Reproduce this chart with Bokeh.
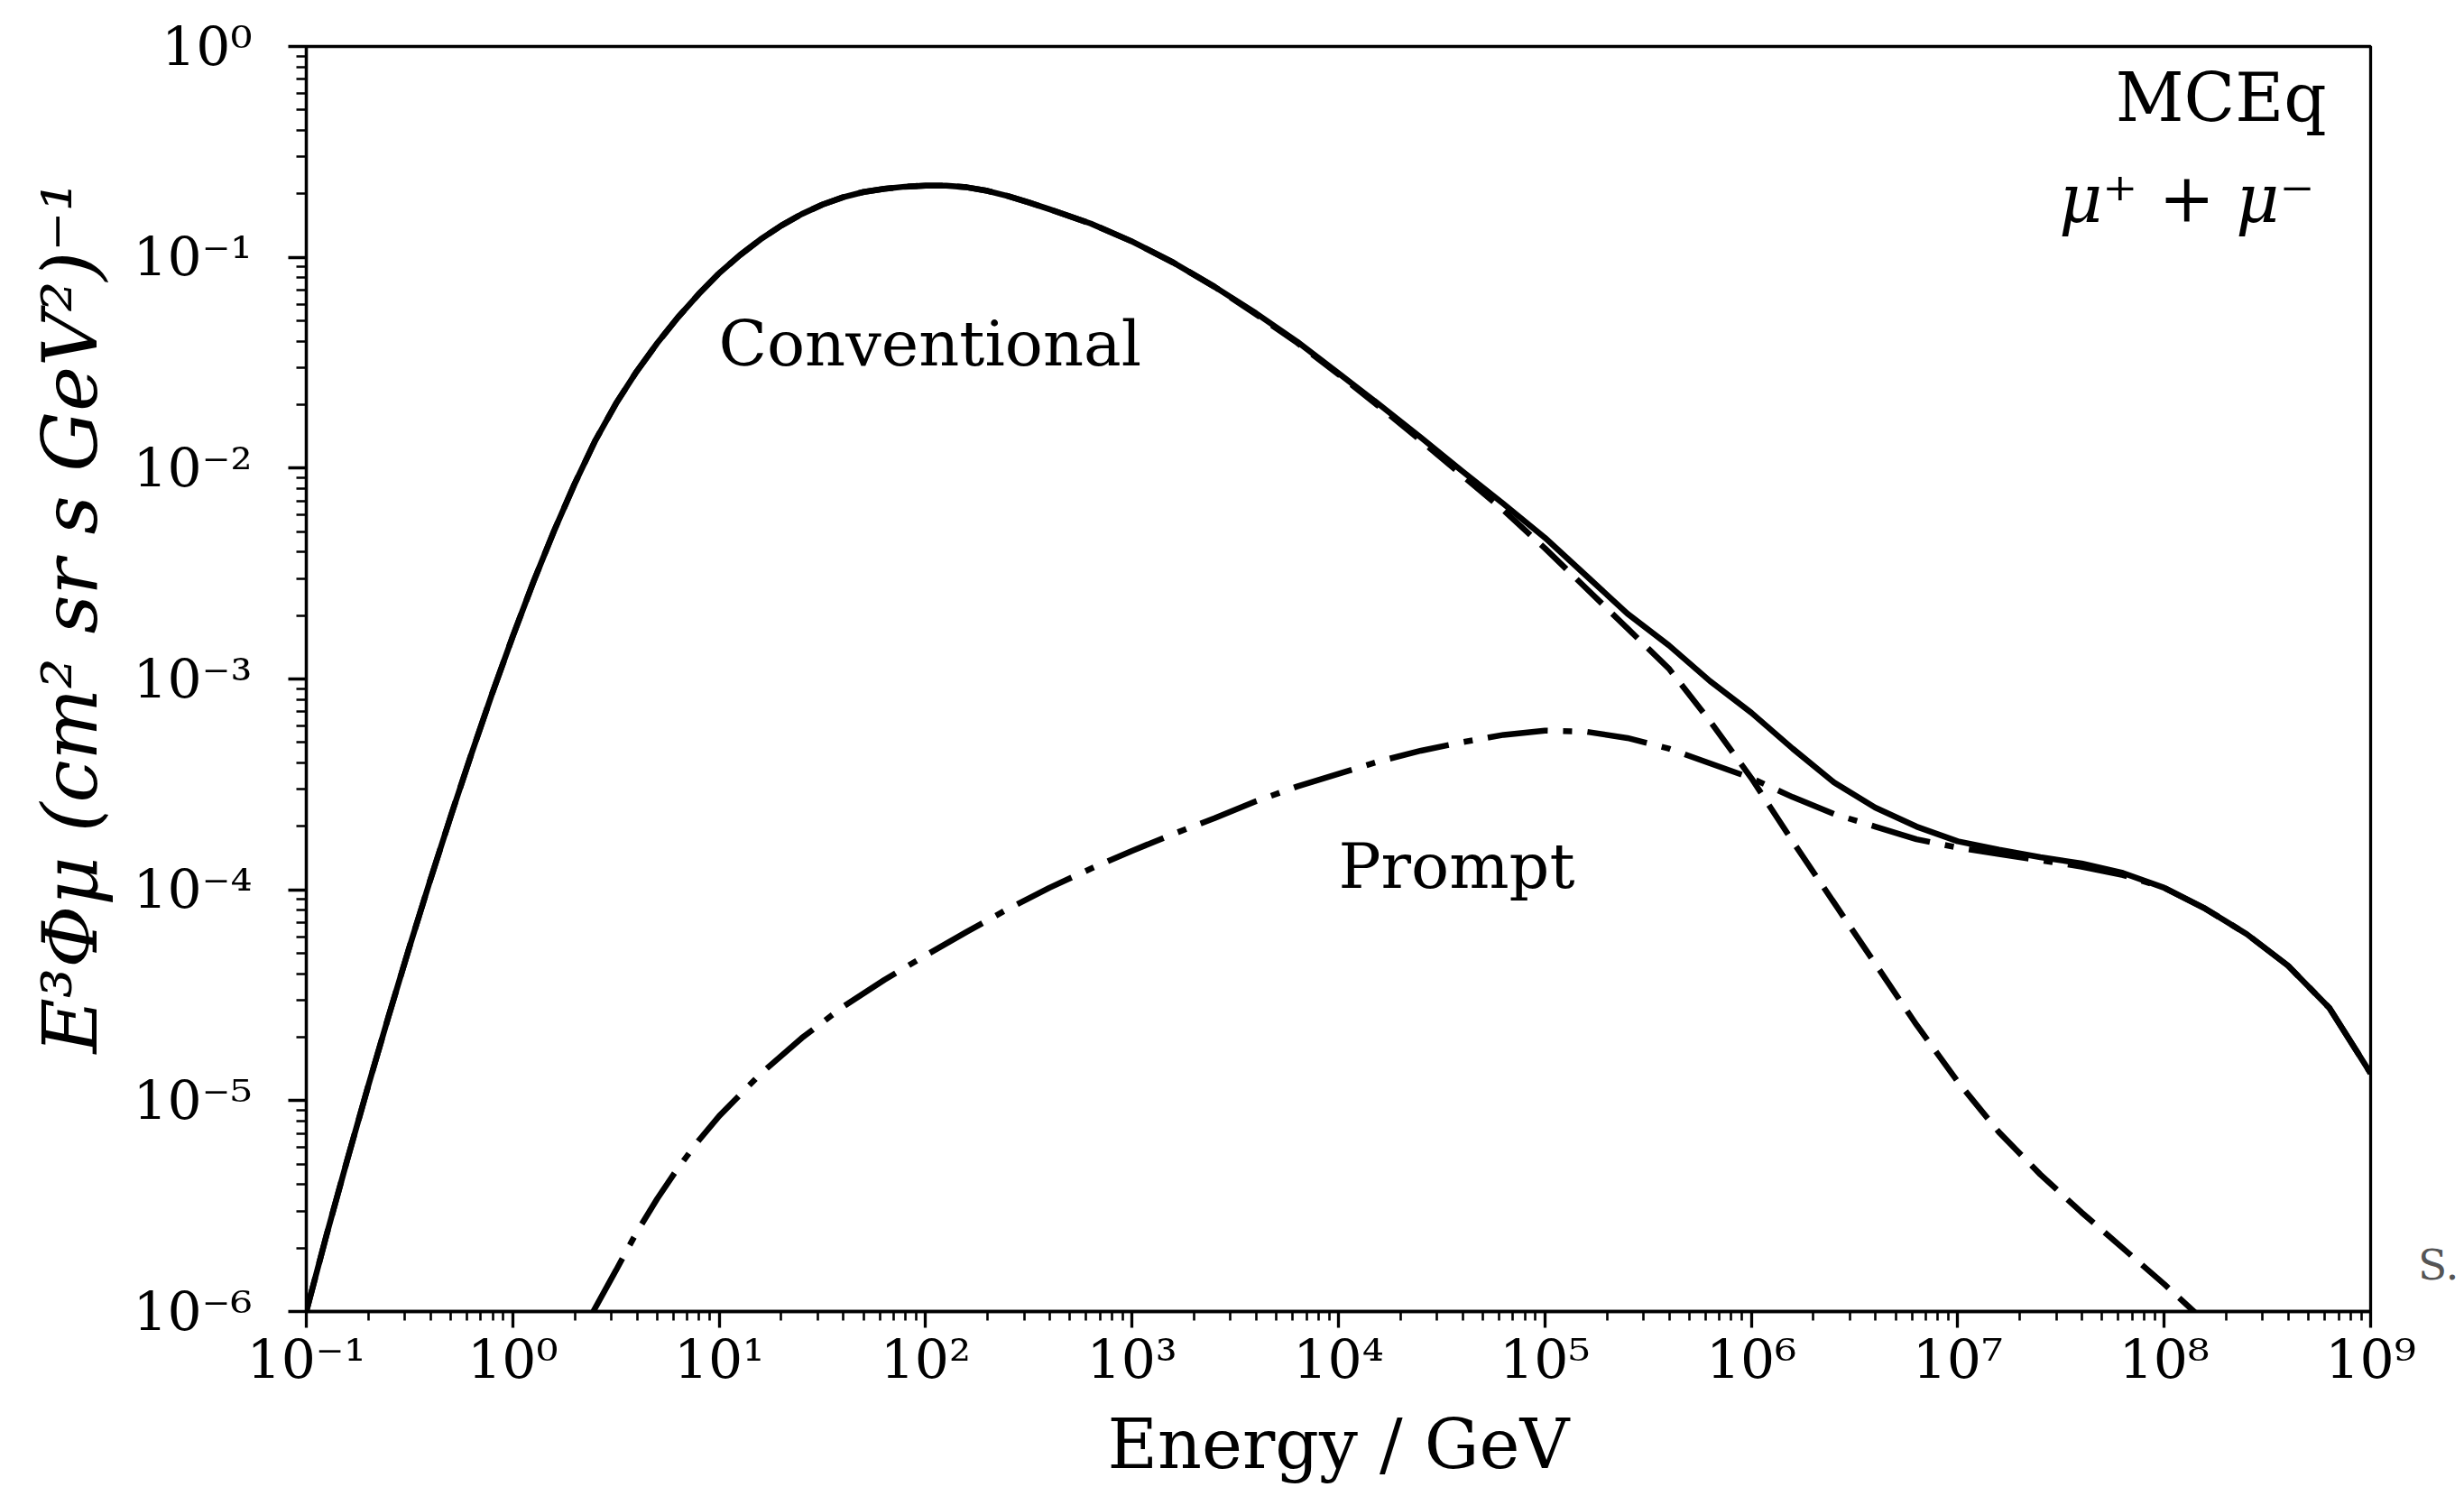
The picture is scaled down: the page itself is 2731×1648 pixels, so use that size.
import numpy as np
from bokeh.plotting import figure
from bokeh.models import FixedTicker, Label, Title, Div
from bokeh.layouts import row
from bokeh.embed import file_html
from bokeh.resources import INLINE

# ---- data (log10 of energy in GeV, log10 of E^3 * flux) ----
log10_energy_total = [-1.0, -0.9, -0.8, -0.7, -0.6, -0.5, -0.4, -0.3, -0.2, -0.1,
                      0.0, 0.1, 0.2, 0.3, 0.4, 0.5, 0.6, 0.7, 0.8, 0.9, 1.0,
                      1.1, 1.2, 1.3, 1.4, 1.5, 1.6, 1.7, 1.8, 1.9, 2.0, 2.1, 2.2,
                      2.3, 2.4, 2.5, 2.6, 2.8, 3.0, 3.2, 3.4,
                      3.6, 3.8, 4.0, 4.2, 4.4, 4.6, 4.8, 5.0, 5.2, 5.4, 5.6, 5.8,
                      6.0, 6.2, 6.4, 6.6, 6.8, 7.0, 7.2, 7.4, 7.6, 7.8, 8.0, 8.2,
                      8.4, 8.6, 8.8, 9.0]
log10_flux_total = [-6.00, -5.63, -5.275, -4.93, -4.595, -4.27, -3.955, -3.65, -3.355, -3.07,
                    -2.798, -2.54, -2.298, -2.074, -1.869, -1.694, -1.542, -1.407, -1.285, -1.175, -1.075,
                    -0.99, -0.915, -0.85, -0.795, -0.75, -0.715, -0.69, -0.675, -0.665, -0.66, -0.66, -0.668,
                    -0.685, -0.71, -0.74, -0.772, -0.84, -0.925, -1.025, -1.14,
                    -1.265, -1.40, -1.55, -1.70, -1.855, -2.015, -2.17, -2.33, -2.51, -2.69, -2.84, -3.01,
                    -3.16, -3.33, -3.49, -3.61, -3.70, -3.77, -3.81, -3.845, -3.875, -3.92, -3.99, -4.09,
                    -4.21, -4.36, -4.56, -4.87]

log10_energy_conv = [-1.0, -0.9, -0.8, -0.7, -0.6, -0.5, -0.4, -0.3, -0.2, -0.1,
                     0.0, 0.1, 0.2, 0.3, 0.4, 0.5, 0.6, 0.7, 0.8, 0.9, 1.0,
                     1.1, 1.2, 1.3, 1.4, 1.5, 1.6, 1.7, 1.8, 1.9, 2.0, 2.1, 2.2,
                     2.3, 2.4, 2.5, 2.6, 2.8, 3.0, 3.2, 3.4,
                     3.6, 3.8, 4.0, 4.2, 4.4, 4.6, 4.8, 5.0, 5.2, 5.4, 5.6, 5.8,
                     6.0, 6.2, 6.4, 6.6, 6.8, 7.0, 7.2, 7.4, 7.6, 7.8, 8.0, 8.2]
log10_flux_conv = [-6.00, -5.63, -5.275, -4.93, -4.595, -4.27, -3.955, -3.65, -3.355, -3.07,
                   -2.798, -2.54, -2.298, -2.074, -1.869, -1.694, -1.542, -1.407, -1.285, -1.175, -1.075,
                   -0.99, -0.915, -0.85, -0.795, -0.75, -0.715, -0.69, -0.675, -0.665, -0.66, -0.66, -0.668,
                   -0.685, -0.71, -0.74, -0.772, -0.84, -0.925, -1.025, -1.14,
                   -1.27, -1.405, -1.555, -1.71, -1.87, -2.035, -2.20, -2.38, -2.57, -2.76, -2.95, -3.20,
                   -3.47, -3.77, -4.06, -4.35, -4.64, -4.91, -5.15, -5.35, -5.53, -5.70, -5.87, -6.05]

log10_energy_prompt = [0.39, 0.5, 0.6, 0.7, 0.8, 0.9, 1.0, 1.2, 1.4, 1.6, 1.8, 2.0,
                       2.2, 2.4, 2.6, 2.8, 3.0, 3.2, 3.4, 3.6, 3.8, 4.0, 4.2, 4.4,
                       4.6, 4.8, 5.0, 5.2, 5.4, 5.6, 5.8, 6.0, 6.2, 6.4, 6.6, 6.8,
                       7.0, 7.2, 7.4, 7.6, 7.8, 8.0, 8.2, 8.4, 8.6, 8.8, 9.0]
log10_flux_prompt = [-6.00, -5.805, -5.625, -5.465, -5.32, -5.19, -5.073, -4.873, -4.703, -4.555, -4.427, -4.311,
                     -4.199, -4.09, -3.99, -3.90, -3.815, -3.735, -3.66, -3.58, -3.51, -3.45, -3.39, -3.34,
                     -3.30, -3.265, -3.245, -3.25, -3.28, -3.33, -3.40, -3.47, -3.56, -3.64, -3.70, -3.76,
                     -3.80, -3.83, -3.86, -3.89, -3.93, -3.99, -4.09, -4.21, -4.36, -4.56, -4.87]

x_tick_exponents = list(range(-1, 10))
y_tick_exponents = list(range(-6, 1))

SUP = str.maketrans("-0123456789", "⁻⁰¹²³⁴⁵⁶⁷⁸⁹")
SERIF = "DejaVu Serif"

p = figure(width=2680, height=1648, x_axis_type="log", y_axis_type="log",
           x_range=(1e-1, 1e9), y_range=(1e-6, 1e0),
           output_backend="svg", toolbar_location=None,
           min_border_left=339, min_border_right=53,
           min_border_top=51, min_border_bottom=195)
p.grid.visible = False
p.background_fill_color = "white"
p.border_fill_color = "white"
p.outline_line_color = "black"
p.outline_line_width = 3.3

# axes ticks
x_major = [10.0 ** k for k in x_tick_exponents]
y_major = [10.0 ** k for k in y_tick_exponents]
x_minor = [m * 10.0 ** k for k in x_tick_exponents[:-1] for m in range(2, 10)]
y_minor = [m * 10.0 ** k for k in y_tick_exponents[:-1] for m in range(2, 10)]
p.xaxis.ticker = FixedTicker(ticks=x_major, minor_ticks=x_minor)
p.yaxis.ticker = FixedTicker(ticks=y_major, minor_ticks=y_minor)
p.xaxis.major_label_overrides = {t: "10" + str(k).translate(SUP) for t, k in zip(x_major, x_tick_exponents)}
p.yaxis.major_label_overrides = {t: "10" + str(k).translate(SUP) for t, k in zip(y_major, y_tick_exponents)}

for ax in (p.xaxis[0], p.yaxis[0]):
    ax.axis_line_width = 3.3
    ax.axis_line_color = "black"
    ax.major_tick_line_width = 3.3
    ax.minor_tick_line_width = 2.6
    ax.major_tick_in = 0
    ax.minor_tick_in = 0
    ax.major_label_text_font = SERIF
    ax.major_label_text_font_size = "60px"
    ax.major_label_text_color = "black"

p.xaxis.major_tick_out = 18
p.xaxis.minor_tick_out = 10
p.yaxis.major_tick_out = 20
p.yaxis.minor_tick_out = 11
p.xaxis.major_label_standoff = 0
p.yaxis.major_label_standoff = 40

p.xaxis.axis_label = "Energy / GeV"
p.xaxis.axis_label_text_font = SERIF
p.xaxis.axis_label_text_font_size = "76px"
p.xaxis.axis_label_text_font_style = "normal"
p.xaxis.axis_label_text_color = "black"
p.xaxis.axis_label_standoff = 11

# y axis title (side panel, starting above the frame bottom as in the reference)
ytitle = Title(text="E³Φμ (cm² sr s GeV²)⁻¹", align="left", offset=286, standoff=36,
               text_font=SERIF, text_font_size="84px", text_font_style="italic",
               text_color="black")
p.add_layout(ytitle, "left")

# curves
p.line(np.power(10.0, log10_energy_conv), np.power(10.0, log10_flux_conv),
       line_color="black", line_width=6.5, line_dash="39 16")
p.line(np.power(10.0, log10_energy_prompt), np.power(10.0, log10_flux_prompt),
       line_color="black", line_width=6.5, line_dash="67 17 10 17")
p.line(np.power(10.0, log10_energy_total), np.power(10.0, log10_flux_total),
       line_color="black", line_width=6.5, line_join="round")

# annotations
p.add_layout(Label(x=10 ** 0.997, y=10 ** -1.41, text="Conventional",
                   text_font=SERIF, text_font_size="70px", text_color="black",
                   text_baseline="alphabetic", text_align="left"))
p.add_layout(Label(x=10 ** 4.0, y=10 ** -3.89, text="Prompt",
                   text_font=SERIF, text_font_size="70px", text_color="black",
                   text_baseline="alphabetic", text_align="left"))
p.add_layout(Label(x=10 ** 8.786, y=10 ** -0.24, text="MCEq",
                   text_font=SERIF, text_font_size="74px", text_color="black",
                   text_baseline="alphabetic", text_align="right"))
p.add_layout(Label(x=10 ** 8.729, y=10 ** -0.72, text="μ⁺ + μ⁻",
                   text_font=SERIF, text_font_size="74px", text_font_style="italic",
                   text_color="black", text_baseline="alphabetic", text_align="right"))

# small grey credit text right of the frame
credit = Div(text='<div style="position:absolute; top:1374px; left:0px; '
                  'font-family:\'DejaVu Serif\'; font-size:47px; color:#555555; '
                  'white-space:nowrap; line-height:normal;">S.</div>',
             width=51, height=1648, margin=0,
             styles={"overflow": "hidden", "position": "relative", "background-color": "white"})

layout = row(p, credit, spacing=0)
open("out.html", "w").write(file_html(layout, INLINE))
